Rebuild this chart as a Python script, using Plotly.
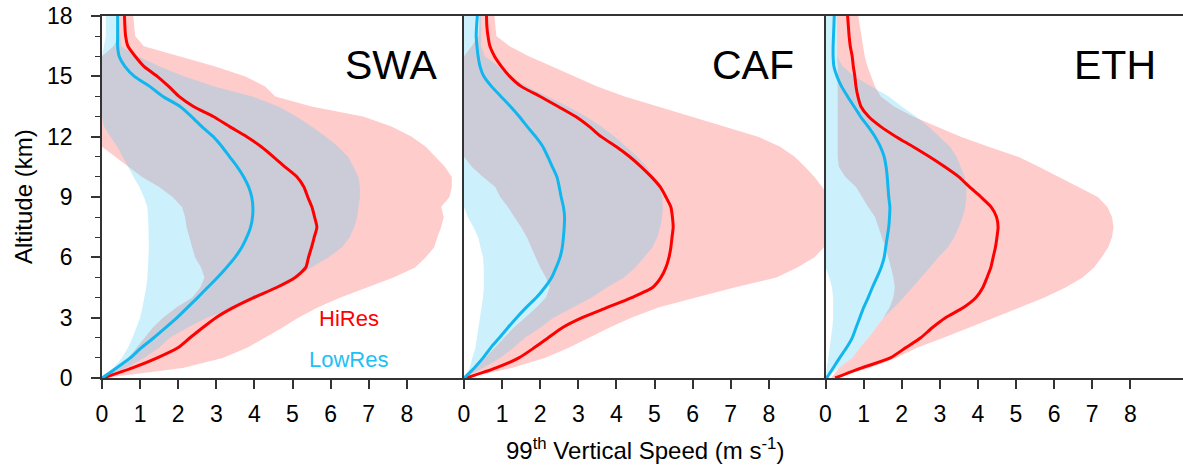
import plotly.graph_objects as go

# ---------------- data (altitude grid in km) ----------------
altitude = [0, 0.5, 1, 1.5, 2, 2.5, 3, 3.5, 4, 4.5, 5, 5.5, 6, 6.5, 7, 7.5, 8, 8.5, 9,
            9.5, 10, 10.5, 11, 11.5, 12, 12.5, 13, 13.5, 14, 14.5, 15, 15.5, 16, 16.5,
            17, 17.5, 18]

regions = ["SWA", "CAF", "ETH"]
x_ticks = [0, 1, 2, 3, 4, 5, 6, 7, 8]
y_ticks = [0, 3, 6, 9, 12, 15, 18]

# SWA
swa_hires_mean = [0.03, 0.8, 1.45, 1.99, 2.31, 2.64, 2.99, 3.44, 3.98, 4.58, 5.07, 5.35, 5.42, 5.5,
                  5.57, 5.64, 5.58, 5.51, 5.4, 5.3, 5.12, 4.8, 4.5, 4.18, 3.8, 3.35, 2.92, 2.4,
                  2.02, 1.75, 1.45, 1.1, 0.87, 0.68, 0.62, 0.6, 0.59]
swa_lowres_mean = [0, 0.38, 0.74, 1.03, 1.36, 1.67, 1.97, 2.24, 2.51, 2.77, 3.03, 3.27, 3.49, 3.67,
                   3.8, 3.9, 3.95, 3.96, 3.93, 3.85, 3.72, 3.55, 3.35, 3.15, 2.92, 2.62, 2.35,
                   2.05, 1.6, 1.25, 0.85, 0.6, 0.45, 0.41, 0.41, 0.41, 0.41]
swa_hires_low = [0, 0.45, 0.69, 0.9, 1.1, 1.33, 1.6, 1.95, 2.37, 2.58, 2.69, 2.6, 2.44, 2.37, 2.3,
                 2.22, 2.18, 2.1, 1.85, 1.5, 1.05, 0.7, 0.35, 0, 0, 0, 0, 0, 0, 0, 0, 0, 0,
                 0.3, 0.45, 0.45, 0.45]
swa_hires_high = [0.05, 2.12, 3.17, 3.81, 4.28, 4.73, 5.15, 5.66, 6.26, 6.95, 7.65, 8.22, 8.5, 8.72,
                  8.8, 8.9, 8.97, 8.9, 9.12, 9.18, 9.18, 9.0, 8.75, 8.5, 8.13, 7.6, 6.85, 5.5,
                  4.55, 4.28, 3.75, 2.95, 2.0, 1.1, 0.87, 0.85, 0.82]
swa_lowres_low = [0, 0.3, 0.52, 0.68, 0.8, 0.91, 1.0, 1.06, 1.12, 1.16, 1.19, 1.21, 1.22, 1.23,
                  1.23, 1.22, 1.21, 1.19, 1.1, 0.98, 0.83, 0.69, 0.55, 0.4, 0.22, 0.05, 0, 0, 0,
                  0, 0, 0, 0, 0.05, 0.1, 0.1, 0.1]
swa_lowres_high = [0, 0.63, 1.1, 1.5, 1.78, 2.24, 2.75, 3.51, 4.14, 4.68, 5.1, 5.5, 5.95, 6.3, 6.5,
                   6.62, 6.7, 6.73, 6.77, 6.77, 6.73, 6.6, 6.46, 6.2, 5.88, 5.5, 5.1, 4.63, 3.95,
                   2.95, 2.15, 1.5, 0.95, 0.5, 0.48, 0.46, 0.45]

# CAF
caf_hires_mean = [0.06, 0.84, 1.44, 1.84, 2.21, 2.58, 3.1, 3.75, 4.4, 4.95, 5.17, 5.3, 5.38, 5.43,
                  5.46, 5.49, 5.47, 5.43, 5.3, 5.15, 4.92, 4.65, 4.35, 4.0, 3.6, 3.29, 2.93, 2.47,
                  2.0, 1.5, 1.2, 0.98, 0.8, 0.68, 0.63, 0.6, 0.59]
caf_lowres_mean = [0, 0.27, 0.5, 0.7, 0.93, 1.15, 1.38, 1.63, 1.9, 2.12, 2.3, 2.42, 2.52, 2.58, 2.61,
                   2.63, 2.64, 2.61, 2.55, 2.5, 2.44, 2.32, 2.2, 2.07, 1.88, 1.66, 1.45, 1.22,
                   0.97, 0.72, 0.52, 0.42, 0.37, 0.34, 0.32, 0.33, 0.35]
caf_hires_low = [0, 0.25, 0.55, 0.8, 1.05, 1.3, 1.6, 1.9, 2.15, 2.25, 2.15, 2.0, 1.88, 1.76, 1.65,
                 1.5, 1.33, 1.15, 0.95, 0.82, 0.5, 0.2, 0, 0, 0, 0, 0, 0, 0, 0, 0, 0, 0, 0.2,
                 0.38, 0.4, 0.4]
caf_hires_high = [0.05, 1.25, 2.12, 2.75, 3.28, 3.81, 4.39, 5.1, 6.09, 7.1, 8.2, 8.75, 9.2, 9.45,
                  9.6, 9.7, 9.7, 9.7, 9.6, 9.4, 9.2, 8.95, 8.68, 8.3, 7.72, 6.84, 5.97, 5.09,
                  4.22, 3.5, 2.9, 2.3, 1.7, 1.2, 0.85, 0.82, 0.8]
caf_lowres_low = [0, 0.15, 0.22, 0.3, 0.34, 0.38, 0.42, 0.47, 0.5, 0.52, 0.52, 0.52, 0.5, 0.44,
                  0.37, 0.25, 0.1, 0, 0, 0, 0, 0, 0, 0, 0, 0, 0, 0, 0, 0, 0, 0, 0, 0, 0, 0, 0]
caf_lowres_high = [0, 0.5, 0.95, 1.3, 1.6, 2.0, 2.35, 2.85, 3.35, 3.75, 4.2, 4.5, 4.72, 4.95, 5.07,
                   5.15, 5.2, 5.22, 5.2, 5.15, 5.0, 4.8, 4.55, 4.25, 3.96, 3.6, 3.2, 2.73, 2.2,
                   1.65, 1.2, 0.9, 0.55, 0.45, 0.45, 0.45, 0.45]

# ETH
eth_hires_mean = [0.25, 0.95, 1.7, 2.1, 2.5, 2.8, 3.15, 3.62, 3.95, 4.13, 4.24, 4.34, 4.4, 4.46,
                  4.5, 4.53, 4.49, 4.35, 4.08, 3.78, 3.5, 3.13, 2.73, 2.3, 1.85, 1.45, 1.13, 0.93,
                  0.85, 0.8, 0.77, 0.73, 0.7, 0.65, 0.62, 0.6, 0.58]
eth_lowres_mean = [0.03, 0.2, 0.37, 0.55, 0.7, 0.8, 0.9, 1.0, 1.12, 1.23, 1.35, 1.46, 1.54, 1.58,
                   1.62, 1.66, 1.68, 1.69, 1.66, 1.64, 1.62, 1.59, 1.54, 1.44, 1.3, 1.12, 0.92,
                   0.75, 0.58, 0.42, 0.3, 0.22, 0.2, 0.2, 0.21, 0.22, 0.23]
eth_hires_low = [0.15, 0.35, 0.7, 0.9, 1.13, 1.33, 1.52, 1.68, 1.78, 1.82, 1.78, 1.72, 1.65, 1.57,
                 1.48, 1.38, 1.3, 1.12, 0.95, 0.8, 0.52, 0.35, 0.32, 0.32, 0.32, 0.32, 0.32, 0.32,
                 0.32, 0.32, 0.32, 0.32, 0.3, 0.3, 0.3, 0.3, 0.3]
eth_hires_high = [0.2, 1.15, 1.85, 2.4, 3.1, 3.75, 4.45, 5.1, 5.75, 6.3, 6.75, 7.05, 7.25, 7.42,
                  7.52, 7.56, 7.52, 7.4, 7.15, 6.65, 6.12, 5.6, 5.06, 4.28, 3.55, 2.95, 2.3, 1.8,
                  1.45, 1.3, 1.2, 1.1, 1.03, 0.98, 0.95, 0.9, 0.86]
eth_lowres_low = [0, 0.04, 0.07, 0.1, 0.15, 0.18, 0.2, 0.2, 0.2, 0.17, 0.1, 0, 0, 0, 0, 0, 0, 0,
                  0, 0, 0, 0, 0, 0, 0, 0, 0, 0, 0, 0, 0, 0, 0, 0, 0, 0, 0]
eth_lowres_high = [0, 0.35, 0.7, 0.9, 1.13, 1.33, 1.52, 1.8, 2.05, 2.28, 2.52, 2.74, 2.96, 3.22,
                   3.38, 3.5, 3.6, 3.67, 3.7, 3.7, 3.66, 3.56, 3.44, 3.27, 3.0, 2.7, 2.37, 2.0,
                   1.66, 1.2, 0.75, 0.45, 0.3, 0.3, 0.3, 0.3, 0.3]

panels = [
    (swa_hires_mean, swa_lowres_mean, swa_hires_low, swa_hires_high, swa_lowres_low, swa_lowres_high),
    (caf_hires_mean, caf_lowres_mean, caf_hires_low, caf_hires_high, caf_lowres_low, caf_lowres_high),
    (eth_hires_mean, eth_lowres_mean, eth_hires_low, eth_hires_high, eth_lowres_low, eth_lowres_high),
]

# ---------------- styling ----------------
W, H = 1183, 467
ML, MT, MB = 102, 16, 89
PW = W - ML
edges_px = [102, 464, 825.5, 1183]
px_per_unit = 38.1
FONT = "Liberation Sans"
RED = "#ff0000"
BLUE = "#12b6ee"
PINK_FILL = "rgba(255,0,0,0.2)"
BLUE_FILL = "rgba(85,205,245,0.3)"
AXC = "#333333"
TICK_SIZE = 23
TITLE_SIZE = 24

fig = go.Figure()
for i, (hm, lm, hl, hh, ll, lh) in enumerate(panels):
    xa = "x" if i == 0 else f"x{i+1}"
    ya = "y" if i == 0 else f"y{i+1}"
    fig.add_trace(go.Scatter(x=hl + hh[::-1], y=altitude + altitude[::-1], fill="toself",
                             fillcolor=PINK_FILL, line=dict(width=0), mode="lines",
                             hoverinfo="skip", showlegend=False, xaxis=xa, yaxis=ya))
    fig.add_trace(go.Scatter(x=ll + lh[::-1], y=altitude + altitude[::-1], fill="toself",
                             fillcolor=BLUE_FILL, line=dict(width=0), mode="lines",
                             hoverinfo="skip", showlegend=False, xaxis=xa, yaxis=ya))
    fig.add_trace(go.Scatter(x=hm, y=altitude, mode="lines",
                             line=dict(color=RED, width=3, shape="spline", smoothing=0.6),
                             showlegend=False, xaxis=xa, yaxis=ya, name="HiRes"))
    fig.add_trace(go.Scatter(x=lm, y=altitude, mode="lines",
                             line=dict(color=BLUE, width=3, shape="spline", smoothing=0.6),
                             showlegend=False, xaxis=xa, yaxis=ya, name="LowRes"))

layout = dict(width=W, height=H, margin=dict(l=ML, r=0, t=MT, b=MB),
              paper_bgcolor="white", plot_bgcolor="white",
              font=dict(family=FONT, color="black", size=TICK_SIZE), annotations=[])

for i in range(3):
    x0, x1 = edges_px[i], edges_px[i + 1]
    dom = [(x0 - ML) / PW, (x1 - ML) / PW]
    key_x = "xaxis" if i == 0 else f"xaxis{i+1}"
    key_y = "yaxis" if i == 0 else f"yaxis{i+1}"
    ya = "y" if i == 0 else f"y{i+1}"
    xa = "x" if i == 0 else f"x{i+1}"
    layout[key_x] = dict(domain=dom, range=[0, (x1 - x0) / px_per_unit], anchor=ya,
                         tickmode="array", tickvals=x_ticks, ticktext=[str(t) for t in x_ticks],
                         ticks="outside", ticklen=9, tickwidth=1.5, tickcolor=AXC,
                         showline=True, linecolor=AXC, linewidth=1.5, mirror=True,
                         showgrid=False, zeroline=False, ticklabelstandoff=6,
                         tickfont=dict(size=TICK_SIZE, family=FONT, color="black"))
    ydict = dict(domain=[0, 1], range=[0, 18], anchor=xa, showgrid=False, zeroline=False,
                 showline=True, linecolor=AXC, linewidth=1.5)
    if i == 0:
        ydict.update(tickmode="array", tickvals=y_ticks, ticks="outside", ticklen=9,
                     tickwidth=1.5, tickcolor=AXC, ticklabelstandoff=14,
                     tickfont=dict(size=TICK_SIZE, family=FONT, color="black"),
                     minor=dict(ticks="outside", ticklen=5, tickwidth=1, tickcolor=AXC,
                                dtick=1, tick0=0, showgrid=False))
    else:
        ydict.update(showticklabels=False, ticks="")
    layout[key_y] = ydict
    layout["annotations"].append(dict(text=regions[i], xref=xa, yref=ya, x=7.59, y=15.57,
                                      showarrow=False, xanchor="center", yanchor="middle",
                                      font=dict(size=41, family=FONT, color="black")))

layout["annotations"] += [
    dict(text="HiRes", xref="x", yref="y", x=6.48, y=2.94, showarrow=False,
         xanchor="center", yanchor="middle", font=dict(size=22, family=FONT, color=RED)),
    dict(text="LowRes", xref="x", yref="y", x=6.48, y=0.9, showarrow=False,
         xanchor="center", yanchor="middle", font=dict(size=22, family=FONT, color="#1ec0f5")),
    dict(text="Altitude (km)", xref="paper", yref="paper", x=(23 - ML) / PW, y=0.5,
         textangle=-90, showarrow=False, xanchor="center", yanchor="middle",
         font=dict(size=TITLE_SIZE, family=FONT, color="black")),
    dict(text="99<sup>th</sup> Vertical Speed (m s<sup>-1</sup>)", xref="paper", yref="paper",
         x=(645 - ML) / PW, y=(378 - 449) / (H - MT - MB), showarrow=False,
         xanchor="center", yanchor="middle", font=dict(size=TITLE_SIZE, family=FONT, color="black")),
]

fig.update_layout(**layout)
fig.write_html("out.html")
